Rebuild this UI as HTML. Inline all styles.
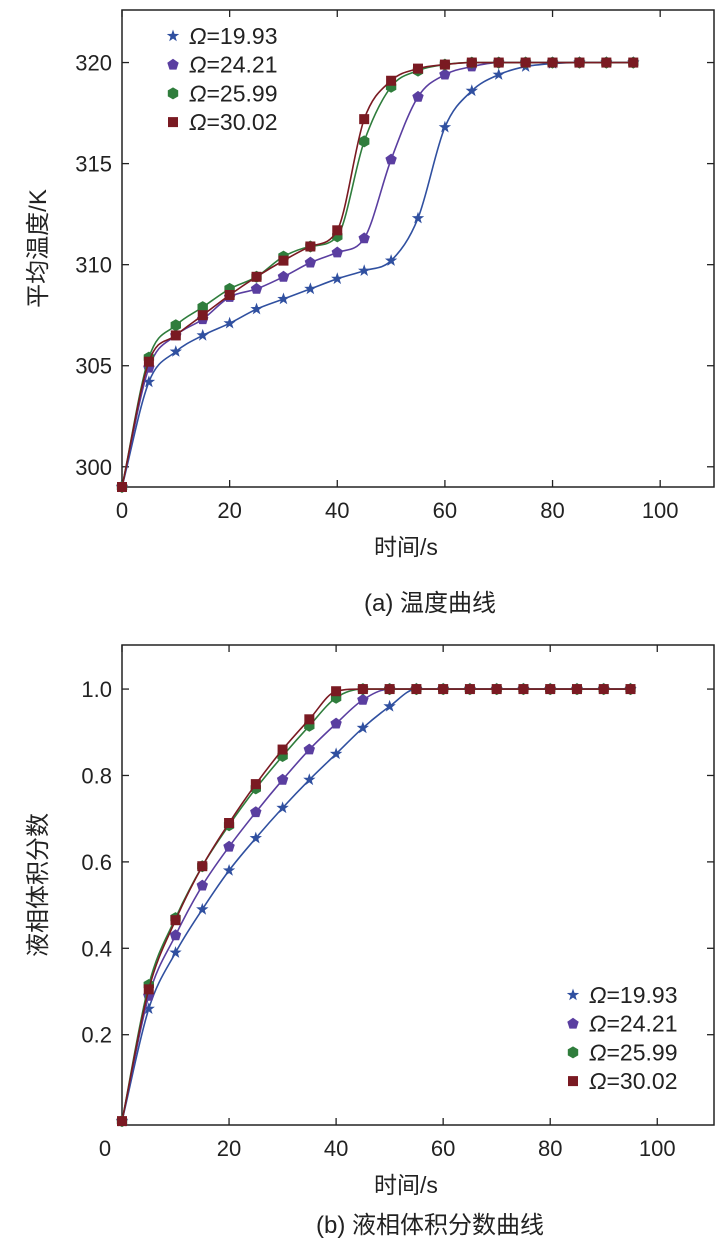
<!DOCTYPE html>
<html><head><meta charset="utf-8"><style>
body{margin:0;background:#fff;}
svg text{font-family:"Liberation Sans","Noto Sans CJK SC",sans-serif;fill:#222;}
</style></head><body>
<svg id="s" width="724" height="1253" viewBox="0 0 724 1253" xmlns="http://www.w3.org/2000/svg"></svg>
<script>
const times=[0,5,10,15,20,25,30,35,40,45,50,55,60,65,70,75,80,85,90,95];
const labels=["Ω=19.93","Ω=24.21","Ω=25.99","Ω=30.02"];
const tempA=[299,304.2,305.7,306.5,307.1,307.8,308.3,308.8,309.3,309.7,310.2,312.3,316.8,318.6,319.4,319.8,319.95,320,320,320];
const tempB=[299,304.9,306.5,307.3,308.4,308.8,309.4,310.1,310.6,311.3,315.2,318.3,319.4,319.8,320,320,320,320,320,320];
const tempC=[299,305.4,307.0,307.9,308.8,309.4,310.4,310.9,311.4,316.1,318.8,319.6,319.9,320,320,320,320,320,320,320];
const tempD=[299,305.2,306.5,307.5,308.5,309.4,310.2,310.9,311.7,317.2,319.1,319.7,319.9,320,320,320,320,320,320,320];
const fracA=[0,0.26,0.39,0.49,0.58,0.655,0.725,0.79,0.85,0.91,0.96,1,1,1,1,1,1,1,1,1];
const fracB=[0,0.29,0.43,0.545,0.635,0.715,0.79,0.86,0.92,0.975,1,1,1,1,1,1,1,1,1,1];
const fracC=[0,0.315,0.47,0.59,0.685,0.77,0.845,0.915,0.98,1,1,1,1,1,1,1,1,1,1,1];
const fracD=[0,0.305,0.465,0.59,0.69,0.78,0.86,0.93,0.995,1,1,1,1,1,1,1,1,1,1,1];
const xTicks=[0,20,40,60,80,100];
const yTicksA=[300,305,310,315,320];
const yTicksB=[0.2,0.4,0.6,0.8,1.0];

const colors=["#3050a0","#5a3ea0","#2f7d3c","#7a1a22"];
const shapes=["star","pent","hex","sq"];
const NS="http://www.w3.org/2000/svg";
const svg=document.getElementById('s');
function el(t,a,p){const e=document.createElementNS(NS,t);for(const k in a)e.setAttribute(k,a[k]);(p||svg).appendChild(e);return e;}
function txt(x,y,s,a,p){const e=el('text',Object.assign({x:x,y:y},a),p);e.textContent=s;return e;}

function mono(xs,ys){
  const n=xs.length,d=[],m=new Array(n);
  for(let i=0;i<n-1;i++)d.push((ys[i+1]-ys[i])/(xs[i+1]-xs[i]));
  m[0]=d[0];m[n-1]=d[n-2];
  for(let i=1;i<n-1;i++){m[i]=(d[i-1]*d[i]<=0)?0:(d[i-1]+d[i])/2;}
  for(let i=0;i<n-1;i++){if(d[i]===0){m[i]=0;m[i+1]=0;continue;}
    const a=m[i]/d[i],b=m[i+1]/d[i],h=a*a+b*b;if(h>9){const t=3/Math.sqrt(h);m[i]=t*a*d[i];m[i+1]=t*b*d[i];}}
  let p="M"+xs[0]+","+ys[0];
  for(let i=0;i<n-1;i++){const h=(xs[i+1]-xs[i])/3;
    p+=" C"+(xs[i]+h)+","+(ys[i]+m[i]*h)+" "+(xs[i+1]-h)+","+(ys[i+1]-m[i+1]*h)+" "+xs[i+1]+","+ys[i+1];}
  return p;
}
function marker(shape,x,y,c,g){
  let e;
  if(shape==="sq")e=el('rect',{x:x-5,y:y-5,width:10,height:10,fill:c},g);
  else{let n=shape==="star"?5:shape==="pent"?5:6,pts=[];
    if(shape==="star"){for(let i=0;i<10;i++){const r=i%2?2.6:6.5,a=-Math.PI/2+i*Math.PI/5;pts.push((x+r*Math.cos(a)).toFixed(1)+","+(y+r*Math.sin(a)).toFixed(1));}}
    else{const r=6;for(let i=0;i<n;i++){const a=-Math.PI/2+i*2*Math.PI/n;pts.push((x+r*Math.cos(a)).toFixed(1)+","+(y+r*Math.sin(a)).toFixed(1));}}
    e=el('polygon',{points:pts.join(" "),fill:c},g);}
  
  
  return e;
}

function panel(cfg){
  const g=el('g',{});
  
  
  const X=v=>cfg.x0+(v-cfg.xmin)/(cfg.xmax-cfg.xmin)*(cfg.x1-cfg.x0);
  const Y=v=>cfg.y1-(v-cfg.ymin)/(cfg.ymax-cfg.ymin)*(cfg.y1-cfg.y0);
  const fr=el('rect',{x:cfg.x0,y:cfg.y0,width:cfg.x1-cfg.x0,height:cfg.y1-cfg.y0,fill:"none",stroke:"#222","stroke-width":1.5},g);
  
  xTicks.forEach((t,i)=>{const x=X(t);
    el('line',{x1:x,y1:cfg.y1,x2:x,y2:cfg.y1-7,stroke:"#222","stroke-width":1.3},g);
    el('line',{x1:x,y1:cfg.y0,x2:x,y2:cfg.y0+7,stroke:"#222","stroke-width":1.3},g);
    const lx=(cfg.zeroShift&&t===0)?x+cfg.zeroShift:x;
    const tl=txt(lx,cfg.y1+31,String(t),{"font-size":22,"text-anchor":"middle"},g);
    });
  cfg.yt.forEach(t=>{const y=Y(t);
    el('line',{x1:cfg.x0,y1:y,x2:cfg.x0+7,y2:y,stroke:"#222","stroke-width":1.3},g);
    el('line',{x1:cfg.x1,y1:y,x2:cfg.x1-7,y2:y,stroke:"#222","stroke-width":1.3},g);
    const tl=txt(cfg.x0-10,y+8,cfg.fmt(t),{"font-size":22,"text-anchor":"end"},g);
    });
  cfg.series.forEach((s,k)=>{
    const xs=times.map(X),ys=s.map(Y);
    const p=el('path',{d:mono(xs,ys),fill:"none",stroke:colors[k],"stroke-width":1.6},g);
    
    times.forEach((t,i)=>marker(shapes[k],xs[i],ys[i],colors[k],g));
  });
  labels.forEach((l,k)=>{const y=cfg.ly+k*28.7;
    const lg=el('g',{},g);
    
    marker(shapes[k],cfg.lx,y,colors[k],lg);
    const t=txt(cfg.lx+16,y+8,"",{"font-size":23},lg);
    const o=el('tspan',{"font-style":"italic"},t);o.textContent="Ω";
    const r=el('tspan',{},t);r.textContent=l.slice(1);
  });
  const xl=txt((cfg.x0+cfg.x1)/2-12,cfg.y1+68,"时间/s",{"font-size":23,"text-anchor":"middle"},g);
  
  const yc=(cfg.y0+cfg.y1)/2;
  const yl=txt(46,yc,cfg.ytitle,{"font-size":24,"text-anchor":"middle",transform:"rotate(-90 46 "+yc+")"},g);
  
  const cap=txt(430,cfg.capY,cfg.cap,{"font-size":24,"text-anchor":"middle"},g);
  
}
panel({name:"temperature-chart",x0:122,x1:714,y0:10,y1:487,xmin:0,xmax:110,ymin:299,ymax:322.6,yt:yTicksA,fmt:v=>String(v),
  series:[tempA,tempB,tempC,tempD],lx:173,ly:36,ytitle:"平均温度/K",cap:"(a) 温度曲线",capY:611});
panel({name:"liquid-fraction-chart",x0:122,x1:714,y0:645,y1:1125,xmin:0,xmax:110.6,ymin:-0.009,ymax:1.102,yt:yTicksB,fmt:v=>v.toFixed(1),zeroShift:-17,
  series:[fracA,fracB,fracC,fracD],lx:573,ly:995,ytitle:"液相体积分数",cap:"(b) 液相体积分数曲线",capY:1233});
</script>
</body></html>
